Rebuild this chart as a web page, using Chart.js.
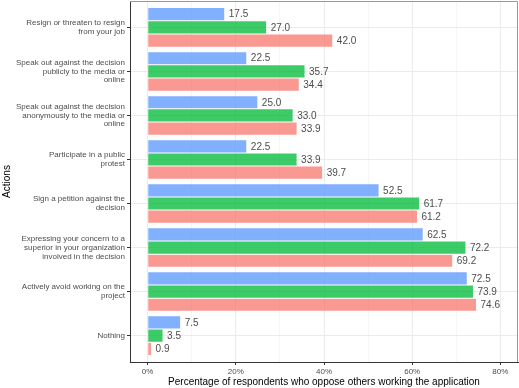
<!DOCTYPE html>
<html>
<head>
  <title>Actions</title>
  <script src="https://cdn.jsdelivr.net/npm/chart.js"></script>
  <style>
    body {
      margin: 0;
      background-color: #ffffff;
    }
  </style>
</head>
<body>
  <canvas id="grafico" width="519" height="388"></canvas>

  <script>
    var acoes = [
      ["Resign or threaten to resign", "from your job"],
      ["Speak out against the decision", "publicly to the media or", "online"],
      ["Speak out against the decision", "anonymously to the media or", "online"],
      ["Participate in a public", "protest"],
      ["Sign a petition against the", "decision"],
      ["Expressing your concern to a", "superior in your organization", "involved in the decision"],
      ["Actively avoid working on the", "project"],
      ["Nothing"]
    ];
    var azul = [17.5, 22.5, 25.0, 22.5, 52.5, 62.5, 72.5, 7.5];
    var verde = [27.0, 35.7, 33.0, 33.9, 61.7, 72.2, 73.9, 3.5];
    var vermelho = [42.0, 34.4, 33.9, 39.7, 61.2, 69.2, 74.6, 0.9];
    var ticksX = [0, 20, 40, 60, 80];
    var gradeX = [0, 10, 20, 30, 40, 50, 60, 70, 80];

    var fonte = "'Liberation Sans', Arial, sans-serif";

    function pontos(valores) {
      return valores.map(function (v, i) { return { x: v, y: i }; });
    }

    // value labels right of each bar
    var rotulos = {
      id: "rotulos",
      afterDatasetsDraw: function (chart) {
        var ctx = chart.ctx;
        ctx.save();
        ctx.font = "10px " + fonte;
        ctx.fillStyle = "#4d4d4d";
        ctx.textAlign = "left";
        ctx.textBaseline = "middle";
        chart.data.datasets.forEach(function (ds, i) {
          chart.getDatasetMeta(i).data.forEach(function (bar, j) {
            ctx.fillText(ds.data[j].x.toFixed(1), bar.x + 4, bar.y + 0.5);
          });
        });
        ctx.restore();
      }
    };

    // grey panel border on top and right
    var borda = {
      id: "borda",
      afterDraw: function (chart) {
        var a = chart.chartArea;
        var ctx = chart.ctx;
        ctx.save();
        ctx.strokeStyle = "#999999";
        ctx.lineWidth = 1;
        ctx.beginPath();
        ctx.moveTo(a.left, a.top + 0.5);
        ctx.lineTo(a.right - 0.5, a.top + 0.5);
        ctx.lineTo(a.right - 0.5, a.bottom);
        ctx.stroke();
        ctx.restore();
      }
    };

    var ctx = document.getElementById("grafico").getContext("2d");
    var chart = new Chart(ctx, {
      type: "bar",
      data: {
        datasets: [
          { data: pontos(azul), backgroundColor: "rgba(97,156,255,0.8)", borderColor: "rgba(255,255,255,0.5)", borderWidth: 0.5 },
          { data: pontos(verde), backgroundColor: "rgba(0,186,56,0.76)", borderColor: "rgba(255,255,255,0.5)", borderWidth: 0.5 },
          { data: pontos(vermelho), backgroundColor: "rgba(248,118,109,0.75)", borderColor: "rgba(255,255,255,0.5)", borderWidth: 0.5 }
        ]
      },
      options: {
        indexAxis: "y",
        responsive: false,
        animation: false,
        categoryPercentage: 0.9,
        barPercentage: 1.0,
        layout: { padding: { top: 1, right: 1, bottom: 0, left: 0 } },
        plugins: {
          legend: { display: false },
          tooltip: { enabled: false }
        },
        scales: {
          x: {
            type: "linear",
            position: "bottom",
            bounds: "data",
            offset: false,
            min: -4,
            max: 84,
            afterBuildTicks: function (s) {
              s.ticks = gradeX.map(function (v) { return { value: v }; });
            },
            ticks: {
              autoSkip: false,
              maxRotation: 0,
              padding: 2,
              color: "#4d4d4d",
              font: { family: fonte, size: 8 },
              callback: function (v) { return ticksX.indexOf(v) >= 0 ? v + "%" : ""; }
            },
            grid: {
              offset: false,
              color: "#ebebeb",
              lineWidth: function (c) { return c.tick && ticksX.indexOf(c.tick.value) >= 0 ? 1 : 0.5; },
              tickColor: function (c) { return c.tick && ticksX.indexOf(c.tick.value) >= 0 ? "#333333" : "rgba(0,0,0,0)"; },
              tickLength: 3
            },
            border: { color: "#333333", width: 1 },
            title: {
              display: true,
              text: "Percentage of respondents who oppose others working the application",
              color: "#000000",
              font: { family: fonte, size: 10 },
              padding: { top: 0, bottom: 0 }
            },
            afterFit: function (s) {
              s.height = 26;
              s.paddingLeft = 0;
              s.paddingRight = 0;
            }
          },
          y: {
            type: "linear",
            bounds: "data",
            offset: false,
            min: -0.6,
            max: 7.6,
            reverse: true,
            afterBuildTicks: function (s) {
              s.ticks = acoes.map(function (a, i) { return { value: i }; });
            },
            ticks: {
              autoSkip: false,
              padding: 2,
              color: "#4d4d4d",
              font: { family: fonte, size: 8, lineHeight: 1.1 },
              callback: function (v) { return acoes[v] || ""; }
            },
            grid: {
              offset: false,
              color: "#ebebeb",
              tickColor: "#333333",
              tickLength: 3
            },
            border: { color: "#333333", width: 1 },
            title: {
              display: true,
              text: "Actions",
              color: "#000000",
              font: { family: fonte, size: 10 },
              padding: { top: 1, bottom: 0 }
            },
            afterFit: function (s) {
              s.width = 130;
              s.paddingTop = 0;
              s.paddingBottom = 0;
            }
          }
        }
      },
      plugins: [rotulos, borda]
    });
  </script>
</body>
</html>
